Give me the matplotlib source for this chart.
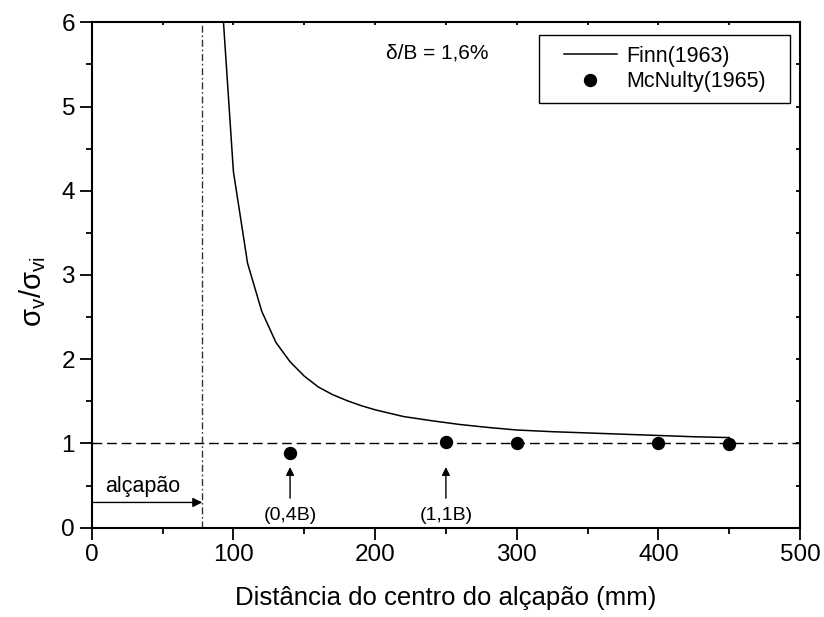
import matplotlib
matplotlib.use("Agg")
import matplotlib.pyplot as plt
from matplotlib.ticker import MultipleLocator
from matplotlib.patches import Rectangle

plt.rcParams['font.family'] = ['Liberation Sans', 'DejaVu Sans']
plt.rcParams['mathtext.default'] = 'regular'

# Finn (1963) curve
finn_x = [90, 100, 110, 120, 130, 140, 150, 160, 170, 180, 190, 200, 220, 240,
          260, 280, 300, 325, 350, 375, 400, 425, 450]
finn_y = [6.76, 4.23, 3.14, 2.57, 2.20, 1.97, 1.80, 1.67, 1.58, 1.51, 1.45, 1.40,
          1.32, 1.27, 1.225, 1.19, 1.16, 1.14, 1.125, 1.11, 1.095, 1.08, 1.07]

# McNulty (1965) points
mc_x = [140, 250, 300, 400, 450]
mc_y = [0.89, 1.02, 1.01, 1.00, 0.995]

trapdoor_edge = 78
ref_level = 1.0
annot_x = [140, 250]
annot_labels = ['(0,4B)', '(1,1B)']

fig = plt.figure(figsize=(8.24, 6.17), dpi=100)
ax = fig.add_axes([0.1113, 0.1447, 0.971 - 0.1113, 0.9639 - 0.1447])

ax.plot(finn_x, finn_y, color='black', lw=1.1, label='Finn(1963)')
ax.plot(mc_x, mc_y, 'o', color='black', ms=8.6, label='McNulty(1965)')

ax.axhline(ref_level, color='black', lw=1.0, dashes=(7, 3.5), zorder=1)
ax.axvline(trapdoor_edge, color='#333333', lw=1.0, dashes=(5, 2, 1.2, 2), zorder=1)

ax.annotate('', xy=(trapdoor_edge, 0.3), xytext=(0, 0.3),
            arrowprops=dict(arrowstyle='-|>', color='black', lw=1.0,
                            mutation_scale=14, shrinkA=0, shrinkB=0))
ax.text(36, 0.49, 'alçapão', fontsize=15.5, ha='center', va='center')

for xa, lab in zip(annot_x, annot_labels):
    ax.annotate('', xy=(xa, 0.72), xytext=(xa, 0.35),
                arrowprops=dict(arrowstyle='-|>', color='black', lw=1.0,
                                mutation_scale=12, shrinkA=0, shrinkB=0))
    ax.text(xa, 0.15, lab, fontsize=14, ha='center', va='center')

ax.text(208, 5.64, 'δ/B = 1,6%', fontsize=15, ha='left', va='center')

ax.set_xlim(0, 500)
ax.set_ylim(0, 6)
ax.xaxis.set_major_locator(MultipleLocator(100))
ax.xaxis.set_minor_locator(MultipleLocator(50))
ax.yaxis.set_major_locator(MultipleLocator(1))
ax.yaxis.set_minor_locator(MultipleLocator(0.5))

ax.tick_params(which='both', labelsize=17.5, width=1.3, top=False, right=False)
ax.tick_params(which='major', direction='out', length=8.5)
ax.tick_params(which='minor', direction='out', length=4.5)

# small inward ticks on top and right
sec_x = ax.secondary_xaxis('top')
sec_x.xaxis.set_major_locator(MultipleLocator(100))
sec_x.xaxis.set_minor_locator(MultipleLocator(50))
sec_x.tick_params(which='both', direction='in', length=2, width=1.3, labeltop=False)
sec_y = ax.secondary_yaxis('right')
sec_y.yaxis.set_major_locator(MultipleLocator(1))
sec_y.yaxis.set_minor_locator(MultipleLocator(0.5))
sec_y.tick_params(which='both', direction='in', length=3, width=1.3, labelright=False)
for s in sec_x.spines.values():
    s.set_visible(False)
for s in sec_y.spines.values():
    s.set_visible(False)

for s in ax.spines.values():
    s.set_linewidth(1.5)

ax.set_xlabel('Distância do centro do alçapão (mm)', fontsize=18.5, labelpad=14)
ax.set_ylabel(r'$\sigma_v/\sigma_{vi}$', fontsize=21)
ax.yaxis.set_label_coords(-0.062, 0.468)

# legend box (frame drawn separately to get wider horizontal padding)
box_x0, box_x1, box_y0, box_y1 = 0.6315, 0.9859, 0.8403, 0.9749
ax.add_patch(Rectangle((box_x0, box_y0), box_x1 - box_x0, box_y1 - box_y0,
                       transform=ax.transAxes, facecolor='white', edgecolor='black',
                       lw=1.0, zorder=4))
leg = ax.legend(loc='center', bbox_to_anchor=((box_x0 + box_x1) / 2, (box_y0 + box_y1) / 2),
                fontsize=15.5, frameon=False, handlelength=2.5,
                handletextpad=0.4, borderpad=0, labelspacing=0.2, borderaxespad=0)
leg.set_zorder(5)

fig.savefig('out.png', dpi=100)
